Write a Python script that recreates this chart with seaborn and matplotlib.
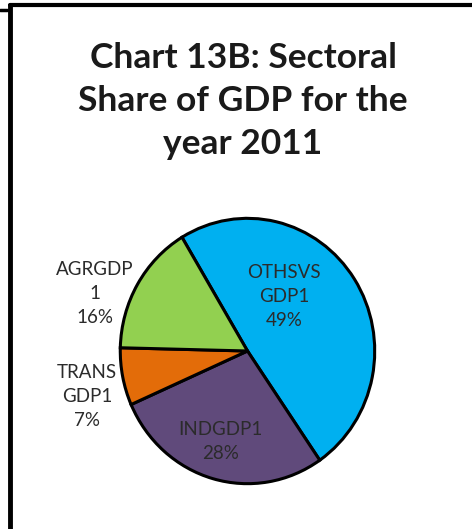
import matplotlib
matplotlib.use("Agg")
import matplotlib.pyplot as plt
import seaborn as sns
from matplotlib.lines import Line2D

# Data
sectors = ["OTHSVS\nGDP1", "INDGDP1", "TRANS\nGDP1", "AGRGDP\n1"]
shares = [49, 28, 7, 16]
colors = ["#00B0F0", "#604A7B", "#E36C09", "#92D050"]
title = "Chart 13B: Sectoral\nShare of GDP for the\nyear 2011"

# label spots in pie data coords (radius = 1)
label_pos = [(0.29, 0.41), (-0.21, -0.68), (-1.26, -0.34), (-1.20, 0.43)]

sns.set_style("white")
plt.rcParams['font.family'] = ['Lato', 'DejaVu Sans']

fig = plt.figure(figsize=(4.72, 5.29), dpi=100)

# frame lines like the original crop
fig.add_artist(Line2D([10/472, 1], [1 - 5/529, 1 - 5/529], color="black", lw=3, transform=fig.transFigure))
fig.add_artist(Line2D([10/472, 10/472], [0, 1 - 5/529], color="black", lw=3.5, transform=fig.transFigure))
fig.add_artist(Line2D([0, 7/472], [1 - 9.5/529, 1 - 9.5/529], color="black", lw=2.5, transform=fig.transFigure))

fig.text(0.515, 1 - 101/529, title, ha="center", va="center", fontsize=25.5,
         fontweight="bold", color="#1a1a1a", linespacing=1.42)

ax = fig.add_axes([119/472, 44/529, 257/472, 268/529])
wedges, _ = ax.pie(shares, colors=colors, startangle=121, counterclock=False,
                   wedgeprops=dict(edgecolor="black", linewidth=2.2))
ax.set_aspect("auto")
ax.set_xlim(-1.01, 1.01)
ax.set_ylim(-1.01, 1.01)
ax.axis("off")

for name, val, (x, y) in zip(sectors, shares, label_pos):
    ax.text(x, y, f"{name}\n{val}%", ha="center", va="center", fontsize=13.5,
            color="#2b2b2b", linespacing=1.5)

plt.savefig("out.png", dpi=100)
